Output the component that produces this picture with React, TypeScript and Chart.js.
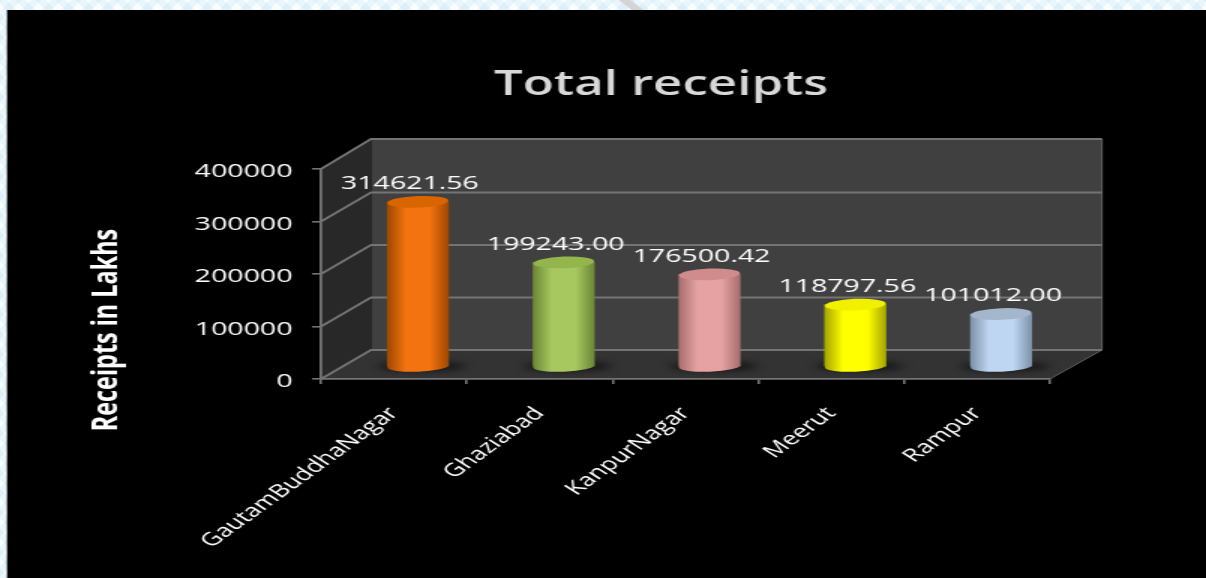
import React, { useEffect, useRef } from "react";
import { Chart, registerables } from "chart.js";

Chart.register(...registerables);

const categories = ["GautamBuddhaNagar", "Ghaziabad", "KanpurNagar", "Meerut", "Rampur"];
const receipts = [314621.56, 199243.0, 176500.42, 118797.56, 101012.0];
const barCentre = ["#f27310", "#a6c85e", "#e6a2a2", "#ffff00", "#bfd6f2"];
const barEdge = ["#a04800", "#6c8638", "#a86e6e", "#a6a600", "#7e92aa"];
const barTop = ["#d96500", "#93b54c", "#d08c8c", "#f0f000", "#a3b6cc"];
const yTicks = [0, 100000, 200000, 300000, 400000];

const STRETCH = 1.5;
const W = 1206 / STRETCH;
const H = 578;
const px = (x: number) => x / STRETCH;

const FRONT_L = px(321);
const FRONT_R = px(1050);
const FRONT_T = 169;
const FRONT_B = 379;
const DEPTH_X = px(50);
const DEPTH_Y = 29;
const MID_X = px(24);
const MID_Y = 12;
const FONT = "'Open Sans', sans-serif";
const LINE = "#747474";
const STOPS = [0, 0.3, 0.5, 0.7, 1];

const fillBar = (ctx: any, cx: number, rx: number, i: number) => {
  const g = ctx.createLinearGradient(cx - rx, 0, cx + rx, 0);
  STOPS.forEach((s) => {
    g.addColorStop(s, s === 0 || s === 1 ? barEdge[i] : barCentre[i]);
  });
  return g;
};

const scene = {
  id: "scene",
  afterLayout(chart: any) {
    chart.titleBlock.left = 0;
    chart.titleBlock.right = px(661) * 2;
    const y = chart.scales.y;
    if (!y.__shifted) {
      const original = y.drawTitle;
      y.drawTitle = function () {
        chart.ctx.save();
        chart.ctx.translate(0, 56);
        original.call(this);
        chart.ctx.restore();
      };
      y.__shifted = true;
    }
  },
  beforeDraw(chart: any) {
    const { ctx, scales } = chart;
    const y = scales.y;
    const path = (pts: number[][], fill: string) => {
      ctx.beginPath();
      pts.forEach(([a, b], i) => (i ? ctx.lineTo(a, b) : ctx.moveTo(a, b)));
      ctx.closePath();
      ctx.fillStyle = fill;
      ctx.fill();
    };
    ctx.save();
    // page watermark stroke
    ctx.strokeStyle = "#d4d4d4";
    ctx.lineWidth = 6;
    ctx.beginPath();
    ctx.moveTo(px(622), -2);
    ctx.lineTo(px(640), 12);
    ctx.stroke();
    ctx.fillStyle = "#000";
    ctx.fillRect(px(7), 10, W, H);

    const l = FRONT_L, r = FRONT_R, t = FRONT_T, b = FRONT_B;
    const bl = l + DEPTH_X, br = r + DEPTH_X + px(2);
    // back wall, side wall, floor
    path([[bl, t - 30], [br, t - 30], [br, b - DEPTH_Y], [bl, b - DEPTH_Y]], "#404040");
    path([[l, t], [bl, t - 30], [bl, b - DEPTH_Y], [l, b]], "#282828");
    path([[l, b], [bl, b - DEPTH_Y], [br, b - DEPTH_Y], [r, b]], "#333333");

    ctx.strokeStyle = LINE;
    ctx.lineWidth = 1.8;
    yTicks.forEach((v) => {
      const p = y.getPixelForValue(v);
      ctx.beginPath();
      ctx.moveTo(l, p);
      ctx.lineTo(bl, p - (v === 400000 ? 30 : DEPTH_Y));
      ctx.lineTo(br, p - (v === 400000 ? 30 : DEPTH_Y));
      ctx.stroke();
    });
    ctx.beginPath();
    ctx.moveTo(br, t - 30);
    ctx.lineTo(br, b - DEPTH_Y);
    ctx.lineTo(r, b);
    ctx.lineWidth = 0.8;
    ctx.stroke();
    ctx.restore();
  },
  beforeDatasetsDraw(chart: any) {
    const { ctx } = chart;
    const meta = chart.getDatasetMeta(0);
    ctx.save();
    ctx.translate(MID_X, -MID_Y);
    meta.data.forEach((bar: any, i: number) => {
      const rx = bar.width / 2;
      // floor shadow
      ctx.save();
      ctx.filter = "blur(3px)";
      ctx.fillStyle = "rgba(0,0,0,0.55)";
      ctx.beginPath();
      ctx.ellipse(bar.x + px(4), bar.base, rx * 1.45, 5, 0, 0, Math.PI * 2);
      ctx.fill();
      ctx.restore();
      // round foot of the cylinder
      ctx.fillStyle = fillBar(ctx, bar.x, rx, i);
      ctx.beginPath();
      ctx.ellipse(bar.x, bar.base, rx, 5.5, -0.06, 0, Math.PI * 2);
      ctx.fill();
    });
  },
  afterDatasetsDraw(chart: any) {
    const { ctx } = chart;
    const meta = chart.getDatasetMeta(0);
    meta.data.forEach((bar: any, i: number) => {
      const rx = bar.width / 2;
      ctx.fillStyle = barTop[i];
      ctx.beginPath();
      ctx.ellipse(bar.x, bar.y, rx, 5.8, -0.06, 0, Math.PI * 2);
      ctx.fill();
    });
    ctx.restore();
    ctx.save();
    ctx.fillStyle = "#ffffff";
    ctx.font = `19px ${FONT}`;
    ctx.textAlign = "center";
    ctx.textBaseline = "middle";
    meta.data.forEach((bar: any, i: number) => {
      ctx.fillText(receipts[i].toFixed(2), bar.x + MID_X - px(8), bar.y - MID_Y - 18);
    });
    ctx.restore();
  },
};

export default function App() {
  const ref = useRef<HTMLCanvasElement>(null);
  useEffect(() => {
    document.body.style.margin = "0";
    const chart = new Chart(ref.current!, {
      type: "bar",
      data: {
        labels: categories,
        datasets: [
          {
            label: "Total receipts",
            data: receipts,
            barThickness: px(61),
            clip: false as any,
            borderWidth: 0,
            backgroundColor: (c: any) => {
              const i = c.dataIndex;
              const cx = c.chart.scales.x && i !== undefined ? c.chart.scales.x.getPixelForValue(i) : NaN;
              if (!Number.isFinite(cx)) return barCentre[i ?? 0];
              return fillBar(c.chart.ctx, cx, px(61) / 2, i);
            },
          },
        ],
      },
      options: {
        responsive: false,
        animation: false,
        devicePixelRatio: 1,
        layout: {
          autoPadding: false,
          padding: { left: 55, right: W - FRONT_R, top: 0, bottom: 0 },
        },
        plugins: {
          legend: { display: false },
          tooltip: { enabled: false },
          title: {
            display: true,
            text: "Total receipts",
            color: "#d8d8d8",
            font: { family: FONT, size: 34, weight: "600" },
            padding: { top: 65, bottom: 63.2 },
          },
        },
        scales: {
          x: {
            afterFit: (s: any) => {
              s.height = H - FRONT_B;
            },
            grid: {
              drawOnChartArea: false,
              color: LINE,
              tickLength: 5,
              lineWidth: 1.6,
            },
            border: { color: LINE, width: 1.8 },
            ticks: {
              color: "#ffffff",
              font: { family: FONT, size: 18 },
              maxRotation: 47,
              minRotation: 47,
              autoSkip: false,
              padding: 19,
            },
          },
          y: {
            min: 0,
            max: 400000,
            afterFit: (s: any) => {
              s.width = FRONT_L - 55;
            },
            afterBuildTicks: (s: any) => {
              s.ticks = yTicks.map((value) => ({ value }));
            },
            title: {
              display: true,
              text: "Receipts in Lakhs",
              color: "#ffffff",
              font: { family: FONT, size: 23.4, weight: "bold" },
              padding: { top: 2, bottom: 0 },
            },
            grid: {
              drawOnChartArea: false,
              color: LINE,
              tickLength: 6,
              lineWidth: 1.6,
            },
            border: { color: LINE, width: 1.8 },
            ticks: {
              color: "#ffffff",
              font: { family: FONT, size: 19 },
              padding: 13,
              labelOffset: 3,
              callback: (v: any) => String(v),
            },
          },
        },
      },
      plugins: [scene],
    } as any);
    return () => chart.destroy();
  }, []);

  const tint = "rgba(178,222,242,0.24)";
  return (
    <div
      style={{
        position: "absolute",
        left: 0,
        top: 0,
        width: 1206,
        height: 578,
        overflow: "hidden",
        backgroundColor: "#fafdff",
        backgroundImage: `repeating-linear-gradient(45deg, ${tint} 0 7px, transparent 7px 14px), repeating-linear-gradient(-45deg, ${tint} 0 7px, transparent 7px 14px)`,
      }}
    >
      <canvas
        ref={ref}
        width={W}
        height={H}
        style={{ display: "block", transform: `scaleX(${STRETCH})`, transformOrigin: "0 0", filter: "blur(0.35px)" }}
      />
    </div>
  );
}
